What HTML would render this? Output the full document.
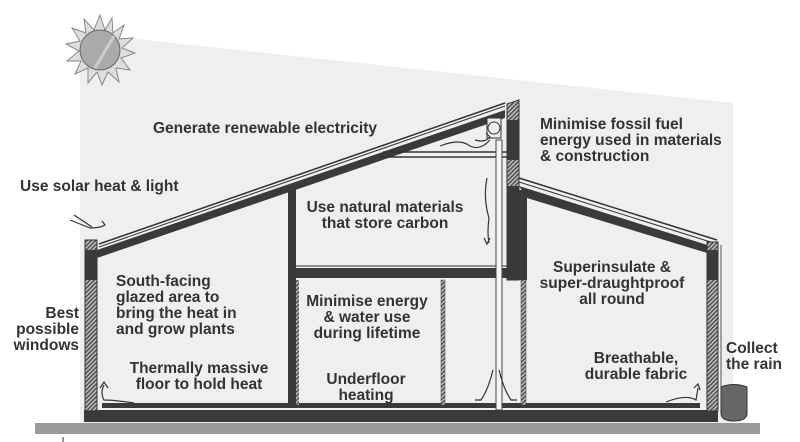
<!DOCTYPE html>
<html><head><meta charset="utf-8"><style>
html,body{margin:0;padding:0;background:#fff;}
svg{display:block}
text{font-family:"Liberation Sans",sans-serif;font-weight:bold;font-size:15.5px;fill:#333}
</style></head><body>
<svg width="800" height="442" viewBox="0 0 800 442" xmlns="http://www.w3.org/2000/svg">
<defs>
<pattern id="h" width="3" height="3" patternUnits="userSpaceOnUse" patternTransform="rotate(45)">
<rect width="3" height="3" fill="#bbb"/><rect width="1.3" height="3" fill="#444"/></pattern>
</defs>
<polygon points="80,33 733,103 733,425 80,425" fill="#efefef"/>
<rect x="35" y="423" width="725" height="11" fill="#9a9a9a"/>
<line x1="63" y1="437" x2="63" y2="442" stroke="#333"/>
<g transform="translate(100,50)">
<polygon fill="#ddd" stroke="#888" stroke-width="1" points="0,-35 5,-20 12,-32 13,-17 24,-25 19,-11 33,-12 22,-2 35,3 21,8 30,20 16,18 19,32 8,22 2,35 -3,22 -12,33 -12,18 -25,24 -19,11 -33,11 -21,1 -34,-6 -20,-9 -28,-22 -14,-17 -16,-31 -6,-20"/>
<circle r="20" fill="#aaa" stroke="#666"/>
<path d="M-5,18 L14,-14" stroke="#ccc" stroke-width="3"/>
</g>
<rect x="84" y="410" width="634" height="12" fill="#3a3a3a"/>
<rect x="102" y="403" width="598" height="5" fill="#3a3a3a"/>
<rect x="85" y="240" width="12" height="171" fill="url(#h)" stroke="#333"/>
<rect x="85" y="250" width="12" height="30" fill="#3a3a3a"/>
<polygon points="97,250 505,110 505,118 97,258" fill="#3a3a3a"/>
<line x1="99" y1="244" x2="505" y2="103" stroke="#333" stroke-width="1.5"/>
<line x1="99" y1="247" x2="505" y2="106" stroke="#333" stroke-width="1"/>
<rect x="288" y="185" width="8" height="220" fill="#3a3a3a"/>
<rect x="296" y="268" width="225" height="10" fill="#3a3a3a"/>
<line x1="296" y1="266" x2="507" y2="266" stroke="#333"/>
<line x1="383" y1="152" x2="507" y2="152" stroke="#333" stroke-width="1.5"/>
<line x1="380" y1="157" x2="507" y2="157" stroke="#333" stroke-width="1.5"/>
<polygon points="507,104 519,100 519,280 507,280" fill="url(#h)" stroke="#333"/>
<rect x="507" y="120" width="12" height="40" fill="#3a3a3a"/>
<rect x="507" y="186" width="12" height="94" fill="#3a3a3a"/>
<rect x="519" y="190" width="8" height="90" fill="#3a3a3a"/>
<polygon points="519,186 717,248 717,256 527,198" fill="#3a3a3a"/>
<line x1="519" y1="178" x2="717" y2="240" stroke="#333" stroke-width="1.5"/>
<line x1="519" y1="182" x2="717" y2="244" stroke="#333" stroke-width="1"/>
<rect x="707" y="242" width="11" height="169" fill="url(#h)" stroke="#333"/>
<rect x="707" y="250" width="11" height="30" fill="#3a3a3a"/>
<line x1="721" y1="245" x2="721" y2="400" stroke="#555"/>
<rect x="296" y="280" width="3" height="125" fill="url(#h)"/>
<rect x="441" y="280" width="4" height="125" fill="url(#h)" stroke="#444" stroke-width="0.5"/>
<rect x="521" y="280" width="5" height="125" fill="url(#h)" stroke="#444" stroke-width="0.5"/>
<rect x="496" y="140" width="6" height="270" fill="#f5f5f5" stroke="#444"/>
<rect x="487" y="118" width="14" height="20" fill="#eee" stroke="#333"/>
<circle cx="494" cy="128" r="6" fill="none" stroke="#333"/>
<g fill="none" stroke="#333" stroke-width="1.2">
<path d="M475,140 q10,3 15,-3 l-4,-4 M440,146 q20,-8 30,0 q10,5 20,-6"/>
<path d="M487,178 q-4,20 2,40 q-2,15 0,25 M484,238 l3,6 3,-6"/>
<path d="M493,370 q-5,20 -12,30 l-6,0 M499,370 q5,20 12,30 l6,0"/>
<path d="M104,385 q-4,8 0,15 q10,0 30,3 M100,388 l4,-6 4,6"/>
<path d="M666,402 q20,-8 30,-2 l2,-12 M694,388 l4,-4 2,6"/>
<path d="M70,220 l20,8 M74,215 l18,12 M90,228 q10,0 15,-3 l-3,-4"/>
</g>
<path d="M721,387 q13,-5 26,0 l0,26 q0,8 -13,8 q-13,0 -13,-8z" fill="#666" stroke="#333"/>
<text x="153" y="133">Generate renewable electricity</text>
<text x="20" y="191">Use solar heat &amp; light</text>
<text x="385" y="212" text-anchor="middle">Use natural materials</text>
<text x="385" y="228" text-anchor="middle">that store carbon</text>
<text x="540" y="129">Minimise fossil fuel</text>
<text x="540" y="145">energy used in materials</text>
<text x="540" y="161">&amp; construction</text>
<text x="116" y="286">South-facing</text>
<text x="116" y="302">glazed area  to</text>
<text x="116" y="318">bring the heat in</text>
<text x="116" y="334">and grow plants</text>
<text x="79" y="318" text-anchor="end">Best</text>
<text x="79" y="334" text-anchor="end">possible</text>
<text x="79" y="350" text-anchor="end">windows</text>
<text x="367" y="306" text-anchor="middle">Minimise energy</text>
<text x="367" y="322" text-anchor="middle">&amp; water use</text>
<text x="367" y="338" text-anchor="middle">during lifetime</text>
<text x="199" y="373" text-anchor="middle">Thermally massive</text>
<text x="199" y="389" text-anchor="middle">floor to hold heat</text>
<text x="366" y="384" text-anchor="middle">Underfloor</text>
<text x="366" y="400" text-anchor="middle">heating</text>
<text x="612" y="272" text-anchor="middle">Superinsulate &amp;</text>
<text x="612" y="288" text-anchor="middle">super-draughtproof</text>
<text x="612" y="304" text-anchor="middle">all round</text>
<text x="636" y="363" text-anchor="middle">Breathable,</text>
<text x="636" y="379" text-anchor="middle">durable fabric</text>
<text x="726" y="353">Collect</text>
<text x="726" y="369">the rain</text>
</svg>
</body></html>
